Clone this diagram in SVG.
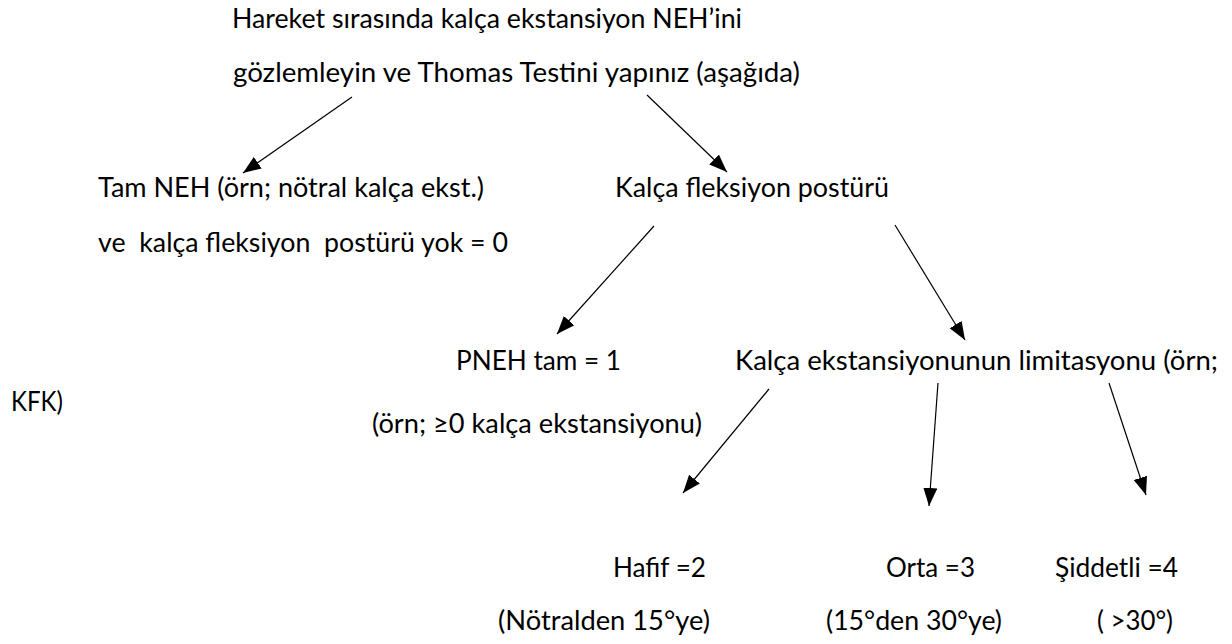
<svg xmlns="http://www.w3.org/2000/svg" width="1232" height="644" viewBox="0 0 1232 644">
  <style>
    text { font-family: Lato, "Open Sans", "Liberation Sans", sans-serif; font-size: 26px; fill: #000; }
    .conn line { stroke: #000; stroke-width: 1.2; fill: none; }
  </style>
  <defs>
    <marker id="arrow" markerUnits="userSpaceOnUse" markerWidth="20" markerHeight="16" refX="18" refY="7" orient="auto">
      <path d="M0,0 L18,7 L0,14 z" fill="#000"/>
    </marker>
  </defs>
  <rect width="1232" height="644" fill="#fff"/>

  <g id="root">
    <text x="232" y="27.5" textLength="510" lengthAdjust="spacingAndGlyphs">Hareket sırasında kalça ekstansiyon NEH’ini</text>
    <text x="233" y="82" textLength="567" lengthAdjust="spacingAndGlyphs">gözlemleyin ve Thomas Testini yapınız (aşağıda)</text>
  </g>

  <g id="full-rom">
    <text x="98" y="197" textLength="386" lengthAdjust="spacingAndGlyphs">Tam NEH (örn; nötral kalça ekst.)</text>
    <text x="98" y="252" textLength="410" lengthAdjust="spacingAndGlyphs" xml:space="preserve">ve  kalça fleksiyon  postürü yok = 0</text>
  </g>

  <g id="flexion-posture">
    <text x="615" y="197" textLength="274" lengthAdjust="spacingAndGlyphs">Kalça fleksiyon postürü</text>
  </g>

  <g id="prom-full">
    <text x="456" y="370" textLength="165" lengthAdjust="spacingAndGlyphs">PNEH tam = 1</text>
    <text x="372" y="433" textLength="330" lengthAdjust="spacingAndGlyphs">(örn; ≥0 kalça ekstansiyonu)</text>
  </g>

  <g id="extension-limit">
    <text x="735" y="370" textLength="483" lengthAdjust="spacingAndGlyphs">Kalça ekstansiyonunun limitasyonu (örn;</text>
    <text x="11" y="411" textLength="52" lengthAdjust="spacingAndGlyphs">KFK)</text>
  </g>

  <g id="mild">
    <text x="613" y="577" textLength="93" lengthAdjust="spacingAndGlyphs">Hafif =2</text>
    <text x="498" y="630" textLength="212" lengthAdjust="spacingAndGlyphs">(Nötralden 15°ye)</text>
  </g>

  <g id="moderate">
    <text x="886" y="577" textLength="89" lengthAdjust="spacingAndGlyphs">Orta =3</text>
    <text x="826" y="630" textLength="176" lengthAdjust="spacingAndGlyphs">(15°den 30°ye)</text>
  </g>

  <g id="severe">
    <text x="1055" y="577" textLength="123" lengthAdjust="spacingAndGlyphs">Şiddetli =4</text>
    <text x="1097" y="630" textLength="76" lengthAdjust="spacingAndGlyphs" xml:space="preserve">( &gt;30°)</text>
  </g>

  <g id="connectors" class="conn">
    <line x1="352" y1="97" x2="243" y2="173" marker-end="url(#arrow)"/>
    <line x1="647" y1="95" x2="727" y2="172" marker-end="url(#arrow)"/>
    <line x1="654" y1="226" x2="557" y2="334" marker-end="url(#arrow)"/>
    <line x1="895" y1="225" x2="965" y2="340" marker-end="url(#arrow)"/>
    <line x1="769" y1="389" x2="683" y2="493" marker-end="url(#arrow)"/>
    <line x1="938" y1="383" x2="929" y2="506" marker-end="url(#arrow)"/>
    <line x1="1109" y1="383" x2="1146" y2="495" marker-end="url(#arrow)"/>
  </g>
</svg>
